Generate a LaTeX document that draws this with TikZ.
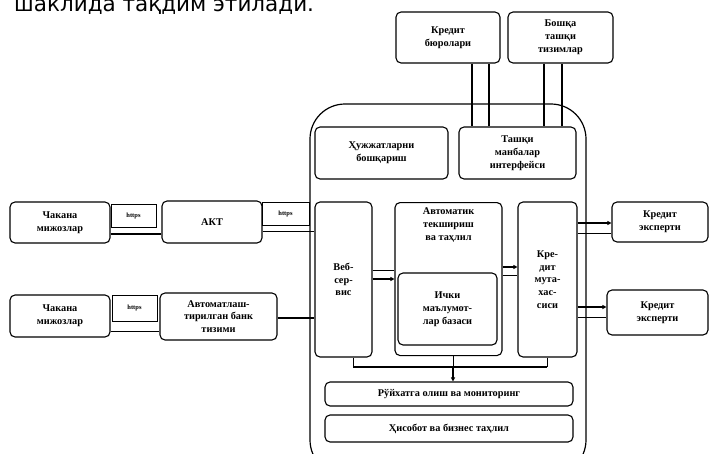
\documentclass[tikz,border=0pt]{standalone}
\usepackage{fontspec}
\setmainfont{Liberation Serif}
\newfontfamily\headfont{DejaVu Sans}
\usetikzlibrary{arrows.meta}
\tikzset{
  box/.style={draw, line width=1.1pt, rounded corners=5pt, align=center,
    inner sep=1pt, font=\bfseries\fontsize{10.3}{12.8}\selectfont},
  tag/.style={draw, line width=0.9pt, inner sep=0pt,
    font=\bfseries\fontsize{6.5}{7}\selectfont},
  wire/.style={line width=1.6pt},
  thin wire/.style={line width=1pt},
  arr/.style={line width=1.4pt, -{Triangle[length=4pt,width=4pt]}},
}
% place a box by its corners (x1,y1) and (x2,y2)
\newcommand\cornerbox[7][box]{%
  \node[#1, minimum width={(#5)-(#3)}, minimum height={(#6)-(#4)}]
    (#2) at ({((#3)+(#5))/2},{((#4)+(#6))/2}) {#7};}
\begin{document}
\begin{tikzpicture}[x=1pt, y=-1pt]
\useasboundingbox (0,0) rectangle (710,453);
\fill[white] (0,0) rectangle (710,453);

% heading line, cut by the upper edge
\begin{scope}
  \clip (0,0) rectangle (710,453);
  \node[anchor=base west, inner sep=0pt, font=\headfont\fontsize{21.5}{24}\selectfont]
    (head) at (14,11) {шаклида тақдим этилади.};
  % main container
  \draw[line width=1.2pt, rounded corners=35pt] (310,104) rectangle (586,475);
\end{scope}

% external systems
\cornerbox{bureau}{396}{12}{500}{63}{Кредит\\бюролари}
\cornerbox{other}{508}{12}{613}{63}{Бошқа\\ташқи\\тизимлар}

% upper row inside the container
\cornerbox{docs}{315}{127}{448}{179}{Ҳужжатларни\\бошқариш}
\cornerbox{extif}{459}{127}{576}{179}{Ташқи\\манбалар\\интерфейси}

% clients and channels
\cornerbox{client1}{10}{202}{110}{243}{Чакана\\мижозлар}
\cornerbox{akt}{162}{201}{262}{243}{АКТ}
\cornerbox{client2}{10}{295}{110}{337}{Чакана\\мижозлар}
\cornerbox{abs}{160}{293}{277}{340}{Автоматлаш-\\тирилган банк\\тизими}

\cornerbox[tag]{https1}{111}{204}{156}{227}{https}
\cornerbox[tag]{https2}{262}{202}{309}{225}{https}
\cornerbox[tag]{https3}{112}{295}{157}{321}{https}

% processing blocks
\cornerbox{web}{315}{202}{372}{357}{Веб-\\сер-\\вис}
\node[box, minimum width=107pt, minimum height=153pt, anchor=north, text depth=110pt]
  (auto) at (448.5,202) {Автоматик\\текшириш\\ва таҳлил};
\cornerbox{db}{398}{273}{497}{345}{Ички\\маълумот-\\лар базаси}
\cornerbox{spec}{518}{202}{577}{357}{Кре-\\дит\\мута-\\хас-\\сиси}

% experts
\cornerbox{exp1}{612}{202}{708}{242}{Кредит\\эксперти}
\cornerbox{exp2}{607}{290}{708}{335}{Кредит\\эксперти}

% lower service strips
\cornerbox{reg}{325}{382}{573}{406}{Рўйхатга олиш ва мониторинг}
\cornerbox{rep}{325}{415}{573}{442}{Ҳисобот ва бизнес таҳлил}

% links to external systems
\draw[wire] (bureau.south -| 472,0) -- (extif.north -| 472,0);
\draw[wire] (extif.north -| 489,0) -- (bureau.south -| 489,0);
\draw[wire] (other.south -| 544,0) -- (extif.north -| 544,0);
\draw[wire] (extif.north -| 562,0) -- (other.south -| 562,0);

% channel links
\draw[wire] (client1.east |- 0,234) -- (akt.west |- 0,234);
\draw[thin wire] (akt.east |- 0,231) -- (web.west |- 0,231);
\draw[thin wire] (client2.east |- 0,331) -- (abs.west |- 0,331);
\draw[wire] (abs.east |- 0,318) -- (web.west |- 0,318);

% internal flows
\draw[thin wire] (web.east |- 0,270) -- (auto.west |- 0,270);
\draw[arr] (web.east |- 0,279) -- (auto.west |- 0,279);
\draw[arr] (auto.east |- 0,267) -- (spec.west |- 0,267);
\draw[thin wire] (auto.east |- 0,275) -- (spec.west |- 0,275);
\draw[arr] (spec.east |- 0,223) -- (exp1.west |- 0,223);
\draw[thin wire] (spec.east |- 0,233) -- (exp1.west |- 0,233);
\draw[arr] (spec.east |- 0,307) -- (exp2.west |- 0,307);
\draw[thin wire] (spec.east |- 0,317) -- (exp2.west |- 0,317);

% collecting bus towards the monitoring strip
\coordinate (busL) at (353,367);
\coordinate (busM) at (453,367);
\coordinate (busR) at (547,367);
\draw[wire] (busL) -- (busR);
\draw[thin wire] (busL) -- (web.south -| busL);
\draw[thin wire] (busM) -- (auto.south -| busM);
\draw[thin wire] (busR) -- (spec.south -| busR);
\draw[arr] (busM) -- (reg.north -| busM);
\end{tikzpicture}
\end{document}
